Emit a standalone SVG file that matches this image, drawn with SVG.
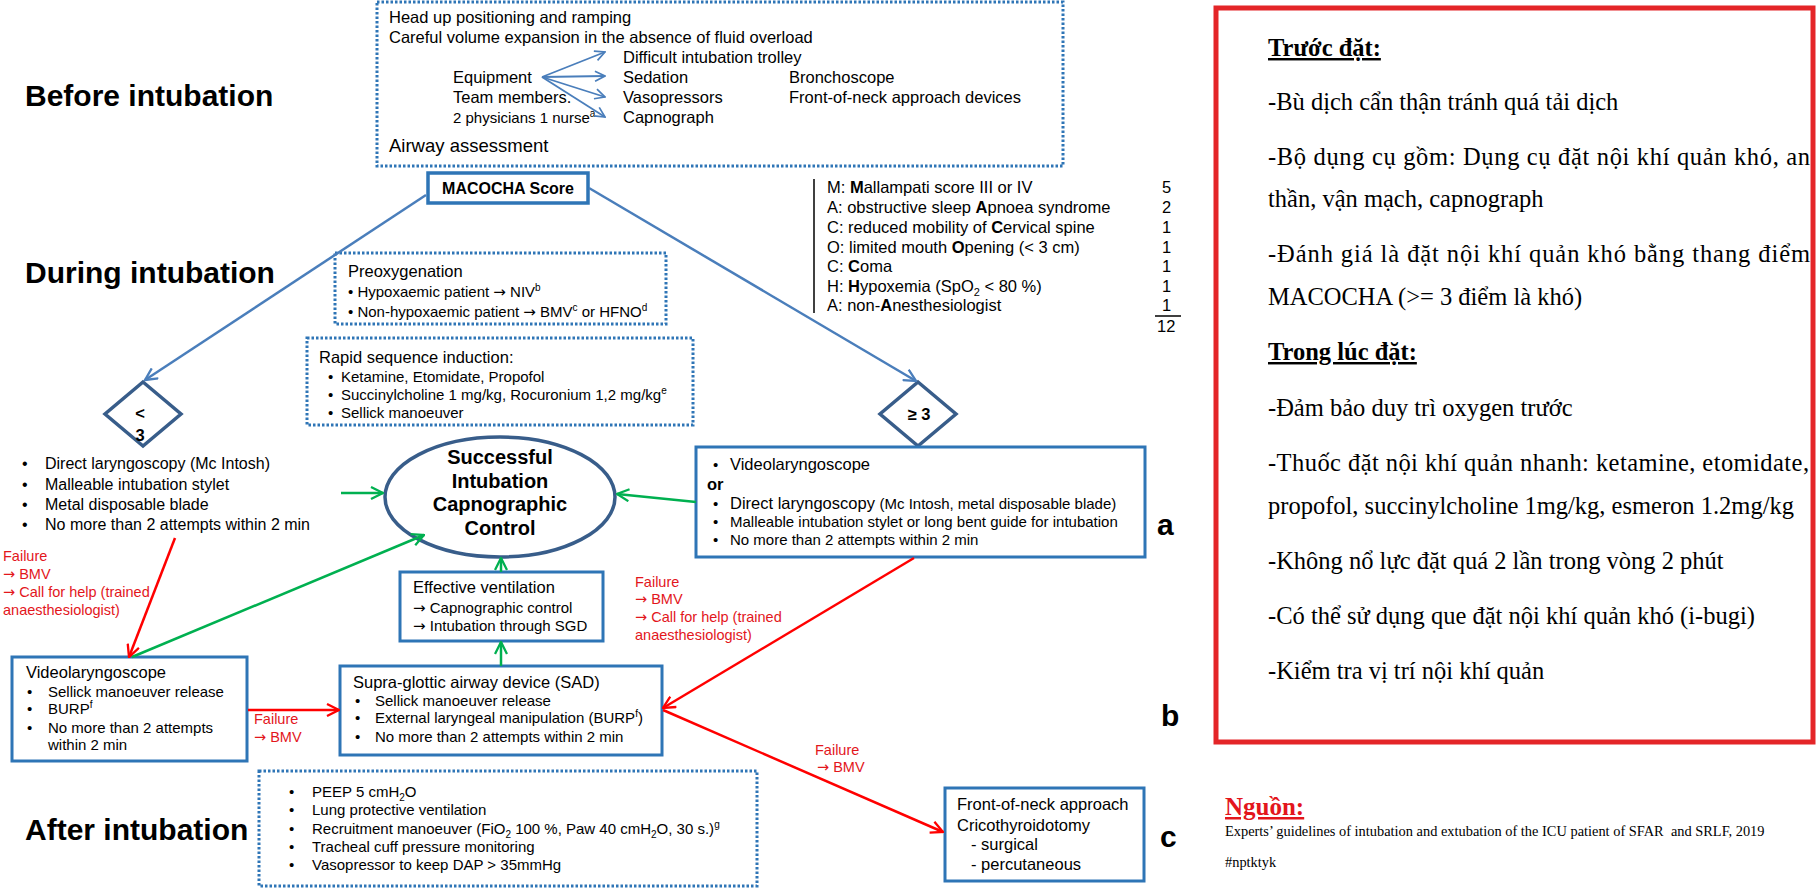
<svg xmlns="http://www.w3.org/2000/svg" width="1817" height="888" viewBox="0 0 1817 888">
<style>
text{font-family:"Liberation Sans",Arial,sans-serif;fill:#000}
.f16{font-size:16.5px}
.f15{font-size:15px}
.f14{font-size:14.5px}
.b{font-weight:bold}
.h{font-size:30px;font-weight:bold}
.lab{font-size:30px;font-weight:bold}
.red{fill:#e3161c}
.ar{font-family:"DejaVu Sans",sans-serif}
.box{fill:#fff;stroke:#2e75b6;stroke-width:3}
.dot{fill:#fff;stroke:#2e75b6;stroke-width:3;stroke-dasharray:2.5 2}
.dia{fill:#fff;stroke:#385d8a;stroke-width:3.5}
.cb{fill:none;stroke:#4a7ebb;stroke-width:2.5;marker-end:url(#ab)}
.cb2{fill:none;stroke:#4a7ebb;stroke-width:1.8;marker-end:url(#ab2)}
.cg{fill:none;stroke:#00b050;stroke-width:2.5;marker-end:url(#ag)}
.cr{fill:none;stroke:#f00;stroke-width:2.5;marker-end:url(#ar)}
.vn{font-family:"Liberation Serif","Times New Roman",serif;font-size:24.5px}
.sup{font-size:10px}
.src{font-family:"Liberation Serif","Times New Roman",serif;font-size:14.4px}
</style>
<defs>
<marker id="ab" viewBox="0 0 14 14" refX="13" refY="7" markerWidth="14" markerHeight="14" markerUnits="userSpaceOnUse" orient="auto"><path d="M1,1 L13,7 L1,13" fill="none" stroke="#4a7ebb" stroke-width="2.3"/></marker>
<marker id="ab2" viewBox="0 0 12 12" refX="11" refY="6" markerWidth="12" markerHeight="12" markerUnits="userSpaceOnUse" orient="auto"><path d="M1,1 L11,6 L1,11" fill="none" stroke="#4a7ebb" stroke-width="1.7"/></marker>
<marker id="ag" viewBox="0 0 14 14" refX="13" refY="7" markerWidth="14" markerHeight="14" markerUnits="userSpaceOnUse" orient="auto"><path d="M1,1 L13,7 L1,13" fill="none" stroke="#00b050" stroke-width="2.3"/></marker>
<marker id="ar" viewBox="0 0 14 14" refX="13" refY="7" markerWidth="14" markerHeight="14" markerUnits="userSpaceOnUse" orient="auto"><path d="M1,1 L13,7 L1,13" fill="none" stroke="#f00" stroke-width="2.3"/></marker>
</defs>
<rect width="1817" height="888" fill="#fff"/>

<g id="phase-labels">
<text class="h" x="25" y="106">Before intubation</text>
<text class="h" x="25" y="283">During intubation</text>
<text class="h" x="25" y="840">After intubation</text>
</g>

<g id="prep">
<rect class="dot" x="377" y="2" width="686" height="164"/>
<text class="f16" x="389" y="23">Head up positioning and ramping</text>
<text class="f16" x="389" y="43">Careful volume expansion in the absence of fluid overload</text>
<text class="f16" x="453" y="83">Equipment</text>
<text class="f16" x="453" y="103">Team members.</text>
<text class="f15" x="453" y="123">2 physicians 1 nurse<tspan class="sup" dy="-6">a</tspan></text>
<text class="f16" x="623" y="63">Difficult intubation trolley</text>
<text class="f16" x="623" y="83">Sedation</text>
<text class="f16" x="623" y="103">Vasopressors</text>
<text class="f16" x="623" y="123">Capnograph</text>
<text class="f16" x="789" y="83">Bronchoscope</text>
<text class="f16" x="789" y="103">Front-of-neck approach devices</text>
<text x="389" y="152" style="font-size:18.5px">Airway assessment</text>
</g>

<g id="macocha">
<rect class="box" x="428" y="173" width="160" height="30" style="stroke-width:3.5"/>
<text class="b" x="508" y="194" text-anchor="middle" style="font-size:16px">MACOCHA Score</text>
</g>

<g id="macocha-criteria">
<line x1="814" y1="179" x2="814" y2="313" stroke="#000" stroke-width="1.5"/>
<text class="f16" x="827" y="193">M: <tspan class="b">M</tspan>allampati score III or IV</text>
<text class="f16" x="827" y="213">A: obstructive sleep <tspan class="b">A</tspan>pnoea syndrome</text>
<text class="f16" x="827" y="233">C: reduced mobility of <tspan class="b">C</tspan>ervical spine</text>
<text class="f16" x="827" y="253">O: limited mouth <tspan class="b">O</tspan>pening (&lt; 3 cm)</text>
<text class="f16" x="827" y="272">C: <tspan class="b">C</tspan>oma</text>
<text class="f16" x="827" y="292">H: <tspan class="b">H</tspan>ypoxemia (SpO<tspan style="font-size:11px" dy="4">2</tspan><tspan dy="-4"> &lt; 80 %)</tspan></text>
<text class="f16" x="827" y="311">A: non-<tspan class="b">A</tspan>nesthesiologist</text>
<text class="f16" x="1162" y="193">5</text>
<text class="f16" x="1162" y="213">2</text>
<text class="f16" x="1162" y="233">1</text>
<text class="f16" x="1162" y="253">1</text>
<text class="f16" x="1162" y="272">1</text>
<text class="f16" x="1162" y="292">1</text>
<text class="f16" x="1162" y="311">1</text>
<line x1="1155" y1="316" x2="1181" y2="316" stroke="#000" stroke-width="1.5"/>
<text class="f16" x="1157" y="332">12</text>
</g>

<g id="preox">
<rect class="dot" x="335" y="253" width="331" height="71"/>
<text class="f16" x="348" y="277">Preoxygenation</text>
<text class="f15" x="348" y="297">• Hypoxaemic patient <tspan class="ar">→</tspan> NIV<tspan class="sup" dy="-6">b</tspan></text>
<text class="f15" x="348" y="317">• Non-hypoxaemic patient <tspan class="ar">→</tspan> BMV<tspan class="sup" dy="-6">c</tspan><tspan dy="6"> or HFNO</tspan><tspan class="sup" dy="-6">d</tspan></text>
</g>

<g id="rsi">
<rect class="dot" x="307" y="338" width="386" height="87"/>
<text class="f16" x="319" y="363">Rapid sequence induction:</text>
<text class="f15" x="328" y="382">•</text><text class="f15" x="341" y="382">Ketamine, Etomidate, Propofol</text>
<text class="f15" x="328" y="400">•</text><text class="f15" x="341" y="400">Succinylcholine 1 mg/kg, Rocuronium 1,2 mg/kg<tspan class="sup" dy="-6">e</tspan></text>
<text class="f15" x="328" y="418">•</text><text class="f15" x="341" y="418">Sellick manoeuver</text>
</g>

<g id="score-lt3">
<polygon class="dia" points="143,382 181,414 143,446 105,414"/>
<text class="b f16" x="140" y="419" text-anchor="middle">&lt;</text>
<text class="b f16" x="140" y="441" text-anchor="middle">3</text>
</g>

<g id="score-ge3">
<polygon class="dia" points="918,382 956,414 918,446 880,414"/>
<text class="b f16" x="919" y="420" text-anchor="middle">≥ 3</text>
</g>

<g id="direct-laryngoscopy">
<text style="font-size:16px" x="22" y="469">•</text><text style="font-size:16px" x="45" y="469">Direct laryngoscopy (Mc Intosh)</text>
<text style="font-size:16px" x="22" y="490">•</text><text style="font-size:16px" x="45" y="490">Malleable intubation stylet</text>
<text style="font-size:16px" x="22" y="510">•</text><text style="font-size:16px" x="45" y="510">Metal disposable blade</text>
<text style="font-size:16px" x="22" y="530">•</text><text style="font-size:16px" x="45" y="530">No more than 2 attempts within 2 min</text>
</g>

<g id="success">
<ellipse class="dia" cx="500" cy="497" rx="115" ry="60"/>
<text class="b" x="500" y="464" text-anchor="middle" style="font-size:20px">Successful</text>
<text class="b" x="500" y="488" text-anchor="middle" style="font-size:20px">Intubation</text>
<text class="b" x="500" y="511" text-anchor="middle" style="font-size:20px">Capnographic</text>
<text class="b" x="500" y="535" text-anchor="middle" style="font-size:20px">Control</text>
</g>

<g id="video-or-direct">
<rect class="box" x="696" y="447" width="449" height="110"/>
<text class="f15" x="713" y="470">•</text><text class="f16" x="730" y="470">Videolaryngoscope</text>
<text class="f16 b" x="707" y="490">or</text>
<text class="f15" x="713" y="509">•</text><text class="f16" x="730" y="509">Direct laryngoscopy <tspan class="f15">(Mc Intosh, metal disposable blade)</tspan></text>
<text class="f15" x="713" y="527">•</text><text class="f15" x="730" y="527">Malleable intubation stylet or long bent guide for intubation</text>
<text class="f15" x="713" y="545">•</text><text class="f15" x="730" y="545">No more than 2 attempts within 2 min</text>
<text class="lab" x="1157" y="535">a</text>
</g>

<g id="effective-ventilation">
<rect class="box" x="400" y="572" width="203" height="69"/>
<text class="f16" x="413" y="593">Effective ventilation</text>
<text class="f15" x="413" y="613"><tspan class="ar">→</tspan> Capnographic control</text>
<text class="f15" x="413" y="631"><tspan class="ar">→</tspan> Intubation through SGD</text>
</g>

<g id="videolaryngoscope">
<rect class="box" x="12" y="657" width="235" height="104"/>
<text class="f16" x="26" y="678">Videolaryngoscope</text>
<text class="f15" x="27" y="697">•</text><text class="f15" x="48" y="697">Sellick manoeuver release</text>
<text class="f15" x="27" y="714">•</text><text class="f15" x="48" y="714">BURP<tspan class="sup" dy="-6">f</tspan></text>
<text class="f15" x="27" y="733">•</text><text class="f15" x="48" y="733">No more than 2 attempts</text>
<text class="f15" x="48" y="750">within 2 min</text>
</g>

<g id="sad">
<rect class="box" x="340" y="666" width="322" height="89"/>
<text class="f16" x="353" y="688">Supra-glottic airway device (SAD)</text>
<text class="f15" x="355" y="706">•</text><text class="f15" x="375" y="706">Sellick manoeuver release</text>
<text class="f15" x="355" y="723">•</text><text class="f15" x="375" y="723">External laryngeal manipulation (BURP<tspan class="sup" dy="-6">f</tspan><tspan dy="6">)</tspan></text>
<text class="f15" x="355" y="742">•</text><text class="f15" x="375" y="742">No more than 2 attempts within 2 min</text>
<text class="lab" x="1161" y="726">b</text>
</g>

<g id="front-of-neck">
<rect class="box" x="945" y="788" width="199" height="93"/>
<text class="f16" x="957" y="810">Front-of-neck approach</text>
<text class="f16" x="957" y="831">Cricothyroidotomy</text>
<text class="f16" x="971" y="850">- surgical</text>
<text class="f16" x="971" y="870">- percutaneous</text>
<text class="lab" x="1160" y="847">c</text>
</g>

<g id="after">
<rect class="dot" x="259" y="771" width="498" height="115"/>
<text class="f15" x="289" y="797">•</text><text class="f15" x="312" y="797">PEEP 5 cmH<tspan style="font-size:10px" dy="4">2</tspan><tspan dy="-4">O</tspan></text>
<text class="f15" x="289" y="815">•</text><text class="f15" x="312" y="815">Lung protective ventilation</text>
<text class="f15" x="289" y="834">•</text><text class="f15" x="312" y="834">Recruitment manoeuver (FiO<tspan style="font-size:10px" dy="4">2</tspan><tspan dy="-4"> 100 %, Paw 40 cmH</tspan><tspan style="font-size:10px" dy="4">2</tspan><tspan dy="-4">O, 30 s.)</tspan><tspan class="sup" dy="-6">g</tspan></text>
<text class="f15" x="289" y="852">•</text><text class="f15" x="312" y="852">Tracheal cuff pressure monitoring</text>
<text class="f15" x="289" y="870">•</text><text class="f15" x="312" y="870">Vasopressor to keep DAP &gt; 35mmHg</text>
</g>

<g id="connectors">
<path class="cb2" d="M542,77 L605,52"/>
<path class="cb2" d="M542,77 L605,76"/>
<path class="cb2" d="M542,77 L605,97"/>
<path class="cb2" d="M542,77 L605,117"/>
<path class="cb" d="M426,195 L145,380"/>
<path class="cb" d="M589,188 L916,381"/>
<path class="cg" d="M341,493 L383,493"/>
<path class="cg" d="M696,502 L617,494"/>
<path class="cg" d="M132,657 L424,535"/>
<path class="cg" d="M501,572 L501,558"/>
<path class="cg" d="M501,666 L501,642"/>
<path class="cr" d="M175,538 L129,657"/>
<path class="cr" d="M914,558 L663,708"/>
<path class="cr" d="M248,710 L339,710"/>
<path class="cr" d="M663,710 L943,832"/>
</g>

<g id="connector-labels">
<text class="f14 red" x="3" y="561">Failure</text>
<text class="f14 red" x="3" y="579"><tspan class="ar">→</tspan> BMV</text>
<text class="f14 red" x="3" y="597"><tspan class="ar">→</tspan> Call for help (trained</text>
<text class="f14 red" x="3" y="615">anaesthesiologist)</text>
<text class="f14 red" x="635" y="587">Failure</text>
<text class="f14 red" x="635" y="604"><tspan class="ar">→</tspan> BMV</text>
<text class="f14 red" x="635" y="622"><tspan class="ar">→</tspan> Call for help (trained</text>
<text class="f14 red" x="635" y="640">anaesthesiologist)</text>
<text class="f14 red" x="254" y="724">Failure</text>
<text class="f14 red" x="254" y="742"><tspan class="ar">→</tspan> BMV</text>
<text class="f14 red" x="815" y="755">Failure</text>
<text class="f14 red" x="817" y="772"><tspan class="ar">→</tspan> BMV</text>
</g>

<g id="notes-vi">
<rect x="1216" y="8" width="597" height="734" fill="none" stroke="#e42528" stroke-width="5"/>
<text class="vn b" x="1268" y="56" text-decoration="underline">Trước đặt:</text>
<text class="vn" x="1268" y="110">-Bù dịch cẩn thận tránh quá tải dịch</text>
<text class="vn" x="1268" y="165" textLength="542" lengthAdjust="spacing">-Bộ dụng cụ gồm: Dụng cụ đặt nội khí quản khó, an</text>
<text class="vn" x="1268" y="207">thần, vận mạch, capnograph</text>
<text class="vn" x="1268" y="262" textLength="542" lengthAdjust="spacing">-Đánh giá là đặt nội khí quản khó bằng thang điểm</text>
<text class="vn" x="1268" y="305">MACOCHA (&gt;= 3 điểm là khó)</text>
<text class="vn b" x="1268" y="360" text-decoration="underline">Trong lúc đặt:</text>
<text class="vn" x="1268" y="416">-Đảm bảo duy trì oxygen trước</text>
<text class="vn" x="1268" y="471" textLength="541" lengthAdjust="spacing">-Thuốc đặt nội khí quản nhanh: ketamine, etomidate,</text>
<text class="vn" x="1268" y="514">propofol, succinylcholine 1mg/kg, esmeron 1.2mg/kg</text>
<text class="vn" x="1268" y="569">-Không nổ lực đặt quá 2 lần trong vòng 2 phút</text>
<text class="vn" x="1268" y="624">-Có thể sử dụng que đặt nội khí quản khó (i-bugi)</text>
<text class="vn" x="1268" y="679">-Kiểm tra vị trí nội khí quản</text>
</g>

<g id="source">
<text class="b red" x="1225" y="815" text-decoration="underline" style="font-family:'Liberation Serif','Times New Roman',serif;font-size:25px">Nguồn:</text>
<text class="src" x="1225" y="836">Experts’ guidelines of intubation and extubation of the ICU patient of SFAR &#160;and SRLF, 2019</text>
<text class="src" x="1225" y="867">#nptktyk</text>
</g>
</svg>
